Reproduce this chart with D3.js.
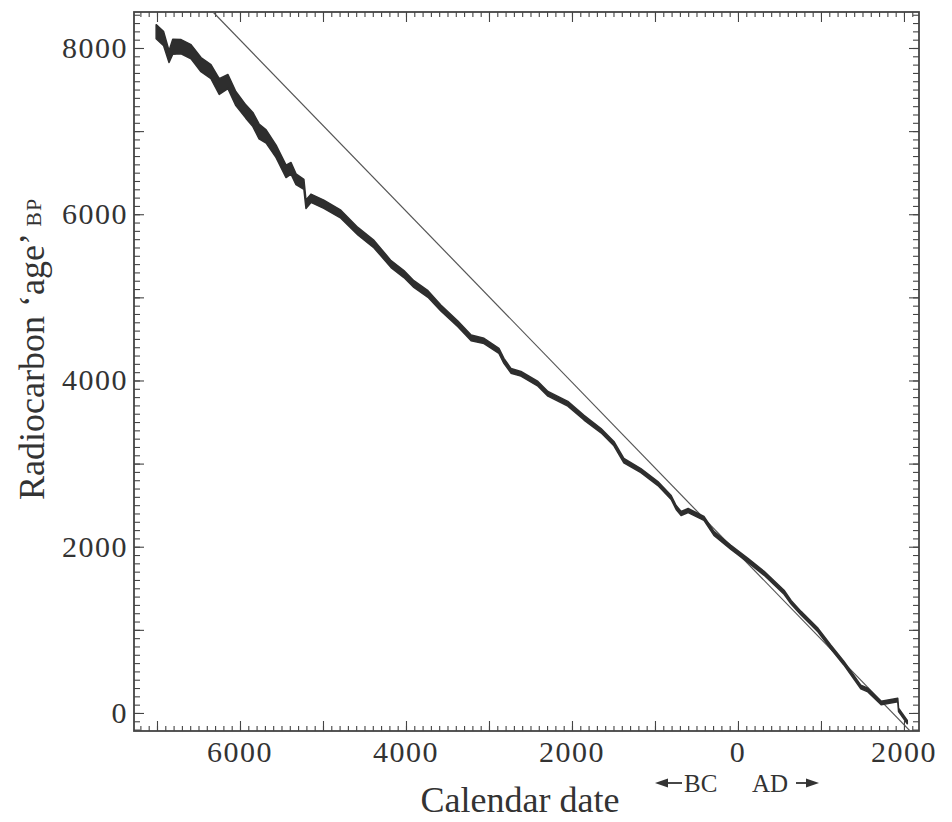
<!DOCTYPE html>
<html>
<head>
<meta charset="utf-8">
<script src="https://cdn.jsdelivr.net/npm/d3@7"></script>
<style>
  body { margin: 0; background: #fff; }
  text { font-family: "Liberation Serif", "DejaVu Serif", serif; fill: #333; }
</style>
</head>
<body>
<div id="chart"></div>
<script>
// calibration curve: calendar year (BC negative) vs radiocarbon age BP
const calYear = [
  -7010, -6920, -6855, -6810, -6710, -6590, -6470, -6350, -6250, -6145,
  -6050, -5930, -5845, -5770, -5685, -5565, -5445, -5385, -5325, -5230,
  -5205, -5145, -4990, -4785, -4580, -4385, -4180, -4025, -3905, -3735,
  -3580, -3375, -3215, -3060, -2880, -2820, -2735, -2615, -2410, -2290,
  -2050, -1855, -1650, -1495, -1375, -1170, -965, -805, -745, -685,
  -600, -410, -290, -85, 120, 315, 555, 640, 760, 965,
  1120, 1275, 1480, 1565, 1725, 1925, 1935, 2040
];
const c14Age = [
  8196, 8112, 7896, 8016, 8016, 7956, 7800, 7716, 7536, 7596,
  7392, 7236, 7140, 6996, 6936, 6756, 6516, 6552, 6420, 6360,
  6120, 6192, 6120, 6000, 5796, 5640, 5400, 5280, 5160, 5040,
  4872, 4680, 4512, 4476, 4356, 4236, 4116, 4080, 3960, 3840,
  3720, 3552, 3396, 3240, 3036, 2916, 2760, 2592, 2472, 2400,
  2436, 2340, 2160, 1992, 1836, 1680, 1452, 1332, 1200, 996,
  792, 600, 312, 276, 120, 156, 36, -110
];
// half width of the drawn band (BP years)
const c14Err = [
  85, 85, 70, 90, 85, 85, 85, 85, 95, 85,
  85, 80, 85, 90, 80, 75, 75, 70, 65, 60,
  50, 50, 50, 48, 45, 45, 42, 42, 40, 40,
  36, 34, 34, 32, 30, 30, 28, 28, 28, 28,
  28, 28, 26, 26, 26, 24, 24, 24, 24, 24,
  24, 24, 24, 24, 24, 24, 24, 22, 22, 22,
  22, 22, 22, 22, 20, 20, 20, 20
];

// the straight reference line
const refYear = [-6325, 2096];
const refAge = [8433, -240];

const xLabelValues = [-6000, -4000, -2000, 0, 2000];
const xLabels = ["6000", "4000", "2000", "0", "2000"];
const yLabelValues = [0, 2000, 4000, 6000, 8000];
const yLabels = ["0", "2000", "4000", "6000", "8000"];

// set the dimensions and margins of the graph
const margin = {top: 12, right: 33, bottom: 91, left: 134},
      width = 952 - margin.left - margin.right,
      height = 822 - margin.top - margin.bottom;

const root = d3.select("#chart")
  .append("svg")
    .attr("width", 952)
    .attr("height", 822);

const svg = root.append("g")
    .attr("transform", `translate(${margin.left}, ${margin.top})`);

const x = d3.scaleLinear().domain([-7277, 2181]).range([0, width]);
const y = d3.scaleLinear().domain([-217, 8433]).range([height, 0]);

// inward ticks on all four sides
const xMinor = d3.range(-7200, 2200, 100);
const xMajor = d3.range(-7000, 3000, 1000);
const yMinor = d3.range(-200, 8500, 100);
const yMajor = d3.range(0, 9000, 1000);

function tickAxis(axis, values, size, transform) {
  const g = svg.append("g")
    .attr("transform", transform)
    .call(axis.tickValues(values).tickSizeInner(size).tickSizeOuter(0).tickFormat(""));
  g.select(".domain").remove();
  g.selectAll("line").attr("stroke", "#444").attr("stroke-width", 1.1);
}
tickAxis(d3.axisBottom(x), xMinor, -5, `translate(0, ${height})`);
tickAxis(d3.axisBottom(x), xMajor, -10, `translate(0, ${height})`);
tickAxis(d3.axisTop(x), xMinor, -5, "translate(0, 0)");
tickAxis(d3.axisTop(x), xMajor, -10, "translate(0, 0)");
tickAxis(d3.axisLeft(y), yMinor, -6, "translate(0, 0)");
tickAxis(d3.axisLeft(y), yMajor, -10, "translate(0, 0)");
tickAxis(d3.axisRight(y), yMinor, -6, `translate(${width}, 0)`);
tickAxis(d3.axisRight(y), yMajor, -10, `translate(${width}, 0)`);

// frame
svg.append("rect")
  .attr("width", width)
  .attr("height", height)
  .attr("fill", "none")
  .attr("stroke", "#444")
  .attr("stroke-width", 1.8);

// tick labels
svg.selectAll(".xlab")
  .data(xLabelValues)
  .join("text")
    .attr("x", d => x(d))
    .attr("y", height + 31)
    .attr("text-anchor", "middle")
    .style("font-size", "30px")
    .style("letter-spacing", "1.5px")
    .text((d, i) => xLabels[i]);

svg.selectAll(".ylab")
  .data(yLabelValues)
  .join("text")
    .attr("x", -6)
    .attr("y", d => y(d) + 10)
    .attr("text-anchor", "end")
    .style("font-size", "30px")
    .style("letter-spacing", "1.5px")
    .text((d, i) => yLabels[i]);

// clip to the frame
svg.append("clipPath").attr("id", "clip")
  .append("rect").attr("width", width).attr("height", height);

const plot = svg.append("g").attr("clip-path", "url(#clip)");

// straight reference line
plot.append("path")
  .datum(refYear.map((d, i) => [d, refAge[i]]))
  .attr("fill", "none")
  .attr("stroke", "#555")
  .attr("stroke-width", 1.2)
  .attr("d", d3.line().x(d => x(d[0])).y(d => y(d[1])));

// calibration band
const curve = calYear.map((d, i) => ({year: d, age: c14Age[i], err: c14Err[i]}));
plot.append("path")
  .datum(curve)
  .attr("fill", "#2e2e2e")
  .attr("stroke", "#2e2e2e")
  .attr("stroke-width", 1.5)
  .attr("stroke-linejoin", "round")
  .attr("d", d3.area()
    .x(d => x(d.year))
    .y0(d => y(d.age - d.err))
    .y1(d => y(d.age + d.err)));

// axis titles
root.append("text")
  .attr("transform", "translate(44, 500) rotate(-90)")
  .style("font-size", "36px")
  .text("Radiocarbon \u2018age\u2019 ")
  .append("tspan")
    .attr("dy", -3)
    .style("font-size", "22px")
    .style("letter-spacing", "1px")
    .text("BP");

root.append("text")
  .attr("x", 520)
  .attr("y", 812)
  .attr("text-anchor", "middle")
  .style("font-size", "36px")
  .text("Calendar date");

// BC / AD arrows
root.append("text")
  .attr("x", 684).attr("y", 792)
  .style("font-size", "25px")
  .text("BC");
root.append("text")
  .attr("x", 752).attr("y", 792)
  .style("font-size", "25px")
  .text("AD");

const arrows = [[682, 655], [796, 819]];
arrows.forEach(([a, b]) => {
  const dir = Math.sign(b - a);
  root.append("line")
    .attr("x1", a).attr("x2", b - dir * 8)
    .attr("y1", 783).attr("y2", 783)
    .attr("stroke", "#333").attr("stroke-width", 1.8);
  root.append("path")
    .attr("d", `M${b},783 L${b - dir * 13},778.5 L${b - dir * 13},787.5 Z`)
    .attr("fill", "#333");
});
</script>
</body>
</html>
